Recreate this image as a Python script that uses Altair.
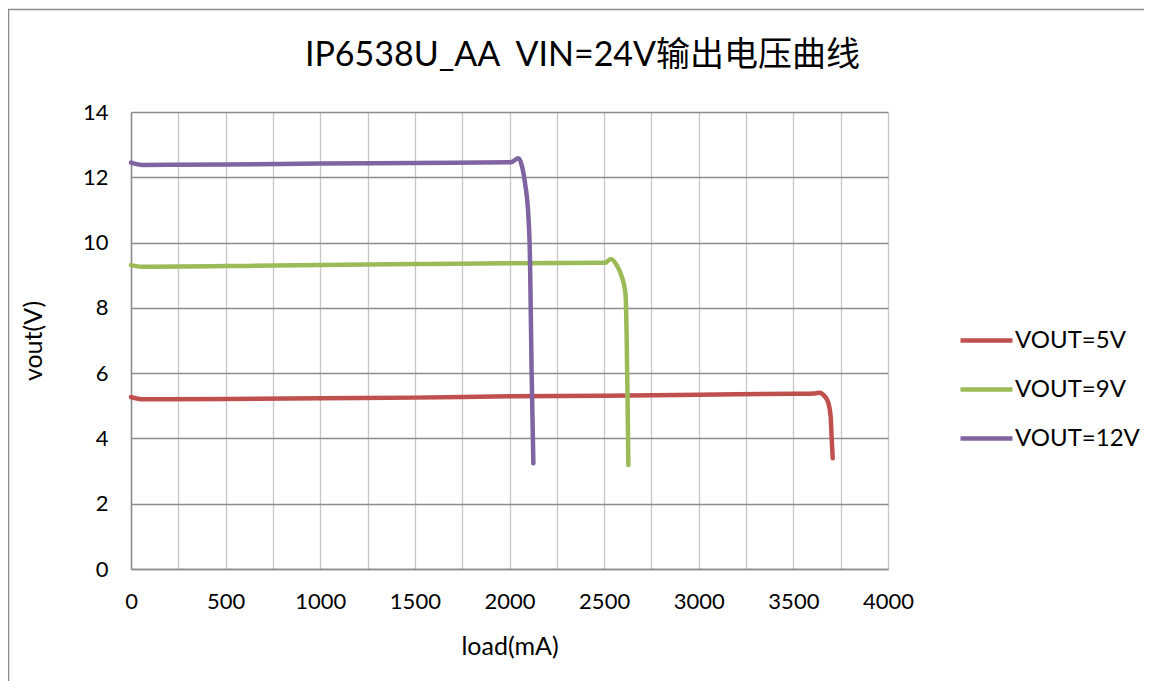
import altair as alt
import pandas as pd

series_names = ["VOUT=5V", "VOUT=9V", "VOUT=12V"]
series_colors = ["#C0504D", "#9BBB59", "#8064A2"]

load_5v = [0, 60, 500, 1000, 1500, 2000, 2500, 3000, 3500, 3614, 3637, 3667, 3685, 3697, 3702, 3708]
vout_5v = [5.27, 5.20, 5.21, 5.23, 5.25, 5.29, 5.31, 5.34, 5.37, 5.38, 5.40, 5.28, 5.08, 4.67, 4.05, 3.39]

load_9v = [0, 60, 500, 1000, 1500, 2000, 2505, 2535, 2566, 2593, 2610, 2614, 2628]
vout_9v = [9.31, 9.26, 9.28, 9.31, 9.34, 9.37, 9.38, 9.50, 9.31, 8.96, 8.55, 8.34, 3.19]

load_12v = [0, 60, 500, 1000, 1500, 2000, 2011, 2047, 2064, 2082, 2100, 2108, 2112, 2117, 2126]
vout_12v = [12.45, 12.38, 12.39, 12.42, 12.44, 12.46, 12.47, 12.58, 12.38, 11.82, 10.79, 9.57, 8.04, 6.0, 3.24]

x_ticks = list(range(0, 4001, 250))
y_ticks = list(range(0, 15, 2))

title_text = "IP6538U_AA\u00a0\u00a0VIN=24V输出电压曲线"
x_title = "load(mA)"
y_title = "vout(V)"

rows = []
for name, xs, ys in [(series_names[0], load_5v, vout_5v),
                     (series_names[1], load_9v, vout_9v),
                     (series_names[2], load_12v, vout_12v)]:
    for i, (a, b) in enumerate(zip(xs, ys)):
        rows.append({"series": name, "load": a, "vout": b, "idx": i})
df = pd.DataFrame(rows)

FONT = "Lato, Noto Sans CJK SC, sans-serif"

lines = alt.Chart(df).mark_line(
    strokeWidth=4.5, strokeCap="round", strokeJoin="round", interpolate="monotone"
).encode(
    x=alt.X("load:Q",
            scale=alt.Scale(domain=[0, 4000], nice=False, zero=False),
            axis=alt.Axis(values=x_ticks, title=x_title, format="d",
                          labelExpr="datum.value % 500 == 0 ? datum.label : ''",
                          labelOverlap=False, labelFlush=False, ticks=False, labelPadding=22,
                          grid=True, gridColor="#c6c6c6", gridWidth=1.3,
                          domainColor="#8c8c8c", domainWidth=1.5,
                          labelFont=FONT, labelFontSize=22, labelColor="#000000",
                          titleFont=FONT, titleFontSize=25, titleFontWeight="normal",
                          titleColor="#000000", titlePadding=22)),
    y=alt.Y("vout:Q",
            scale=alt.Scale(domain=[0, 14], nice=False, zero=False),
            axis=alt.Axis(values=y_ticks, title=y_title, ticks=False, labelPadding=23,
                          labelFlush=False,
                          grid=True, gridColor="#8c8c8c", gridWidth=1.3,
                          domainColor="#8c8c8c", domainWidth=1.5,
                          labelFont=FONT, labelFontSize=22, labelColor="#000000",
                          titleFont=FONT, titleFontSize=25, titleFontWeight="normal",
                          titleColor="#000000", titlePadding=36)),
    color=alt.Color("series:N",
                    scale=alt.Scale(domain=series_names, range=series_colors),
                    sort=series_names,
                    legend=alt.Legend(title=None, orient="none", legendX=827, legendY=200,
                                      symbolType="stroke", symbolSize=2704,
                                      symbolStrokeWidth=4.5, rowPadding=8,
                                      labelOffset=0, labelFont=FONT, labelFontSize=24,
                                      labelColor="#000000", padding=0)),
    order="idx:Q",
)

frame = alt.Chart(pd.DataFrame({"a": [0]})).mark_rect(
    fill=None, stroke="#8c8c8c", strokeWidth=1.5
).encode(
    x=alt.value(-122.5), x2=alt.value(2000),
    y=alt.value(-102.5), y2=alt.value(2000),
)

chart = alt.layer(frame, lines).properties(
    width=757, height=457,
    autosize=alt.AutoSizeParams(type="none"),
    padding={"left": 123, "top": 104, "right": 256, "bottom": 112},
    title=alt.TitleParams(title_text, font=FONT, fontSize=34, fontWeight="normal",
                          color="#000000", anchor="middle", frame="group",
                          baseline="alphabetic", dx=73, offset=-91),
).configure_view(stroke=None)

chart.save("out.html", embed_options={"renderer": "svg", "actions": False})
